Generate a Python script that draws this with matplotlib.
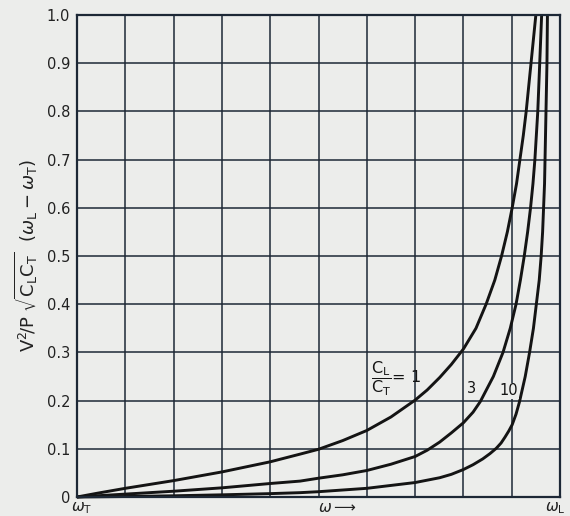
import matplotlib
matplotlib.use("Agg")
import matplotlib.pyplot as plt

plt.rcParams['font.family'] = ['DejaVu Sans']
plt.rcParams['mathtext.fontset'] = 'dejavusans'

# Normalised frequency (omega_T -> omega_L) and values
x_r1 = [0.0, 0.043, 0.1, 0.2, 0.3, 0.4, 0.462, 0.5, 0.55, 0.6, 0.65, 0.7, 0.725, 0.751, 0.775,
        0.8, 0.826, 0.847, 0.865, 0.879, 0.891, 0.901, 0.910, 0.917, 0.924, 0.930, 0.935,
        0.940, 0.945, 0.950]
y_r1 = [0.0, 0.008, 0.018, 0.034, 0.052, 0.073, 0.089, 0.099, 0.117, 0.138, 0.166, 0.201, 0.222, 0.248, 0.275,
        0.307, 0.350, 0.400, 0.450, 0.500, 0.550, 0.600, 0.650, 0.700, 0.750, 0.800, 0.850,
        0.900, 0.950, 1.000]

x_r3 = [0.0, 0.1, 0.2, 0.3, 0.4, 0.462, 0.5, 0.55, 0.6, 0.65, 0.7, 0.725, 0.751, 0.775, 0.8, 0.82,
        0.835, 0.862, 0.882, 0.897, 0.909, 0.918, 0.926, 0.933, 0.939, 0.944, 0.948, 0.951,
        0.954, 0.956, 0.958, 0.960, 0.962]
y_r3 = [0.0, 0.006, 0.012, 0.019, 0.028, 0.033, 0.039, 0.046, 0.055, 0.068, 0.084, 0.097, 0.114, 0.133, 0.154, 0.176,
        0.198, 0.250, 0.300, 0.350, 0.400, 0.450, 0.500, 0.550, 0.600, 0.650, 0.700, 0.750,
        0.800, 0.850, 0.900, 0.950, 1.000]

x_r10 = [0.0, 0.1, 0.2, 0.3, 0.4, 0.462, 0.5, 0.6, 0.7, 0.751, 0.775, 0.8, 0.82, 0.84, 0.855,
         0.868, 0.878, 0.886, 0.894, 0.901, 0.909, 0.916, 0.928, 0.937, 0.945, 0.951, 0.957,
         0.961, 0.964, 0.966, 0.968, 0.969, 0.971, 0.973, 0.974]
y_r10 = [0.0, 0.001, 0.0025, 0.0045, 0.007, 0.009, 0.011, 0.018, 0.030, 0.040, 0.047, 0.057, 0.067, 0.079, 0.090,
         0.101, 0.112, 0.124, 0.137, 0.150, 0.172, 0.197, 0.250, 0.300, 0.350, 0.400, 0.450,
         0.500, 0.550, 0.600, 0.650, 0.700, 0.800, 0.900, 1.000]

y_ticks = [0, 0.1, 0.2, 0.3, 0.4, 0.5, 0.6, 0.7, 0.8, 0.9, 1.0]
y_tick_labels = ['0', '0.1', '0.2', '0.3', '0.4', '0.5', '0.6', '0.7', '0.8', '0.9', '1.0']
x_grid = [0.0, 0.1, 0.2, 0.3, 0.4, 0.5, 0.6, 0.7, 0.8, 0.9, 1.0]
ratio_labels = ['3', '10']

bg = '#ecedeb'
grid_col = '#1d2836'
ink = '#141414'
txt = '#222222'

fig = plt.figure(figsize=(5.70, 5.16), dpi=100, facecolor=bg)
ax = fig.add_axes([77/570, 19/516, 483/570, 482/516])
ax.set_facecolor(bg)
ax.set_xlim(0, 1)
ax.set_ylim(0, 1)

ax.set_xticks(x_grid)
ax.set_yticks(y_ticks)
ax.set_yticklabels(y_tick_labels, fontsize=10.5, color=txt)
ax.set_xticklabels([])
ax.tick_params(length=0, pad=5)
ax.grid(True, color=grid_col, linewidth=1.1)
ax.set_axisbelow(True)
for s in ax.spines.values():
    s.set_color(grid_col)
    s.set_linewidth(1.6)

for xs, ys in [(x_r1, y_r1), (x_r3, y_r3), (x_r10, y_r10)]:
    ax.plot(xs, ys, color=ink, linewidth=2.1, solid_capstyle='butt',
            solid_joinstyle='round', clip_on=False)

# curve labels
ax.text(0.608, 0.246, r'$\dfrac{\mathrm{C_L}}{\mathrm{C_T}}$= 1', fontsize=11.5, color=ink,
        ha='left', va='center')
ax.text(0.816, 0.226, ratio_labels[0], fontsize=10.5, color=ink, ha='center', va='center')
ax.text(0.893, 0.22, ratio_labels[1], fontsize=10.5, color=ink, ha='center', va='center',
        bbox=dict(facecolor=bg, edgecolor='none', pad=0.6))

# x-axis labels
ax.text(0.01, -0.006, r'$\omega_\mathrm{T}$', transform=ax.transAxes, fontsize=11,
        ha='center', va='top', color=txt)
ax.text(0.54, -0.006, r'$\omega\longrightarrow$', transform=ax.transAxes, fontsize=11,
        ha='center', va='top', color=txt)
ax.text(0.99, -0.006, r'$\omega_\mathrm{L}$', transform=ax.transAxes, fontsize=11,
        ha='center', va='top', color=txt)

ax.set_ylabel(r'$\mathrm{V^2\!/P}\ \sqrt{\mathrm{C_LC_T}}\ \ (\omega_\mathrm{L}-\omega_\mathrm{T})$',
              fontsize=13, color=txt, labelpad=5)

fig.savefig('out.png', dpi=100, facecolor=bg)
